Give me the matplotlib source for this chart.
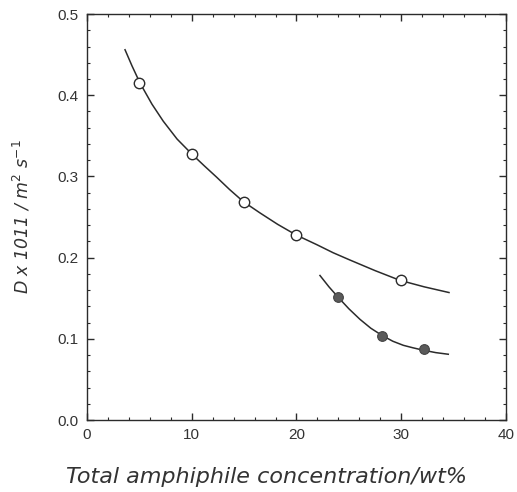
import matplotlib
matplotlib.use("Agg")
import matplotlib.pyplot as plt
from matplotlib.ticker import MultipleLocator

# Data points
open_x = [5.0, 10.0, 15.0, 20.0, 30.0]
open_y = [0.415, 0.328, 0.268, 0.228, 0.172]
filled_x = [24.0, 28.2, 32.2]
filled_y = [0.152, 0.104, 0.087]

# Drawn (fitted) curves
curve1_x = [3.63, 4.3, 5.06, 6.2, 7.28, 8.6, 10.05, 11.2, 12.38, 13.6, 14.92, 16.52, 18.2, 19.95, 21.93, 23.5, 25.11, 27.5, 29.88, 32.2, 34.56]
curve1_y = [0.456, 0.436, 0.415, 0.389, 0.368, 0.346, 0.327, 0.313, 0.299, 0.284, 0.269, 0.255, 0.241, 0.228, 0.216, 0.206, 0.197, 0.184, 0.172, 0.164, 0.157]
curve2_x = [22.24, 23.1, 23.99, 25.0, 26.06, 27.1, 28.19, 29.2, 30.20, 31.1, 32.10, 33.3, 34.49]
curve2_y = [0.178, 0.164, 0.151, 0.137, 0.124, 0.113, 0.104, 0.097, 0.092, 0.089, 0.086, 0.083, 0.081]

x_ticks = [0, 10, 20, 30, 40]
y_ticks = [0.0, 0.1, 0.2, 0.3, 0.4, 0.5]

plt.rcParams['font.family'] = ['Liberation Sans', 'DejaVu Sans']
ink = '#2b2b2b'

fig = plt.figure(figsize=(5.17, 4.92), dpi=100)
ax = fig.add_axes([0.1683, 0.1463, 0.8104, 0.8252])

ax.plot(curve1_x, curve1_y, color=ink, lw=1.1, zorder=2)
ax.plot(curve2_x, curve2_y, color=ink, lw=1.1, zorder=2)
ax.plot(open_x, open_y, 'o', ms=7.5, mfc='white', mec=ink, mew=1.0, zorder=3)
ax.plot(filled_x, filled_y, 'o', ms=7, mfc='#5a5a5a', mec='#444444', mew=0.8, zorder=3)

ax.set_xlim(0, 40)
ax.set_ylim(0.0, 0.5)
ax.set_xticks(x_ticks)
ax.set_yticks(y_ticks)
ax.set_xticklabels([str(v) for v in x_ticks])
ax.set_yticklabels([f"{v:.1f}" for v in y_ticks])
ax.xaxis.set_minor_locator(MultipleLocator(2))
ax.yaxis.set_minor_locator(MultipleLocator(0.02))
ax.tick_params(which='both', direction='in', top=True, right=True, colors=ink,
               labelcolor='#333333', labelsize=11)
ax.tick_params(which='major', length=5, width=1.0, pad=6)
ax.tick_params(which='minor', length=2.5, width=0.8)
for s in ax.spines.values():
    s.set_color(ink)
    s.set_linewidth(1.0)

fig.text(266 / 517, 9 / 492, 'Total amphiphile concentration/wt%', fontsize=16,
         style='italic', family='DejaVu Sans', color='#333333',
         ha='center', va='baseline')
ax.set_ylabel(r'$D$ x 1011 / m$^2$ s$^{-1}$', fontsize=12.5, style='italic',
              family='DejaVu Sans', color='#333333', labelpad=18)

fig.savefig('out.png', dpi=100)
